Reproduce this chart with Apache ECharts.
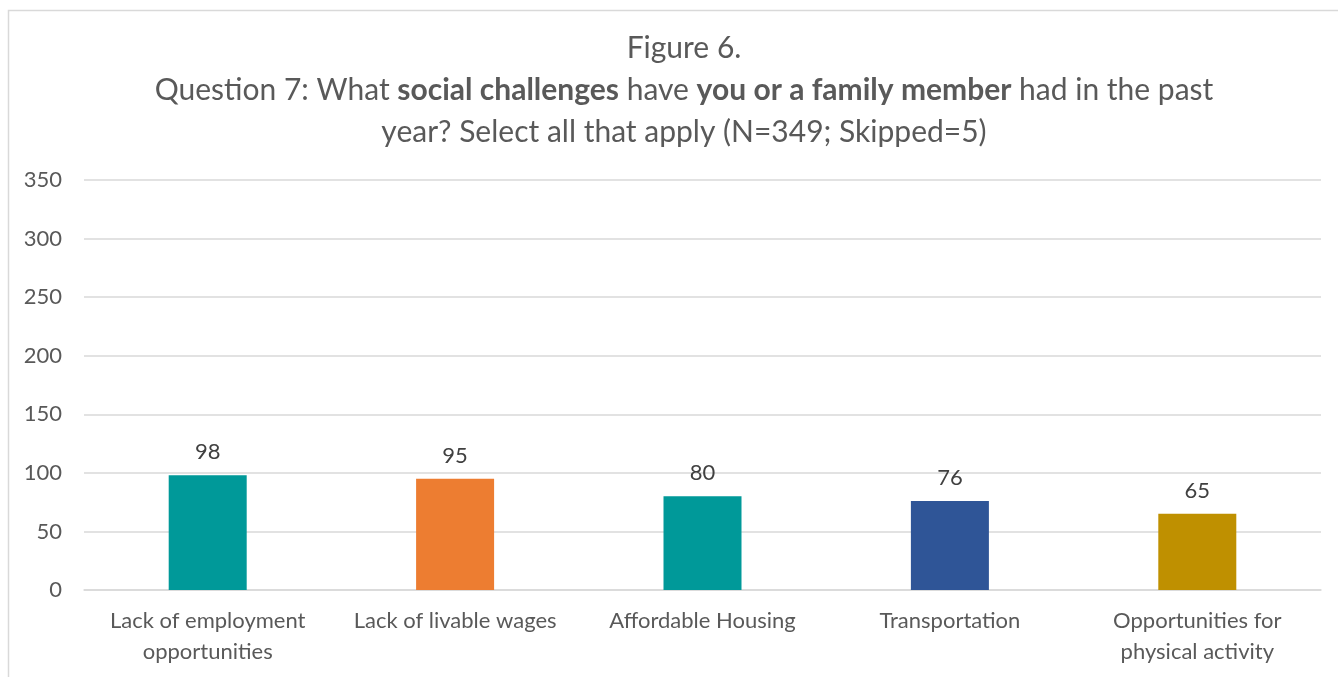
<!DOCTYPE html>
<html>
<head>
<meta charset="utf-8">
<script src="https://cdn.jsdelivr.net/npm/echarts@6/dist/echarts.min.js"></script>
<style>
  html, body { margin: 0; padding: 0; background: #ffffff; }
  #chart { width: 1338px; height: 677px; }
</style>
</head>
<body>
<div id="chart"></div>
<script>
// Survey responses: social challenges reported in the past year
const categories = [
  'Lack of employment\nopportunities',
  'Lack of livable wages',
  'Affordable Housing',
  'Transportation',
  'Opportunities for\nphysical activity'
];
const counts = [98, 95, 80, 76, 65];
const barColors = ['#009999', '#ED7D31', '#009999', '#2F5597', '#BF9000'];
const yTicks = { min: 0, max: 350, interval: 50 };

const FONT = 'Lato';
const TEXT = '#595959';

const chart = echarts.init(document.getElementById('chart'), null, { renderer: 'canvas' });

chart.setOption({
  backgroundColor: '#ffffff',
  animation: false,
  textStyle: { fontFamily: FONT },
  graphic: [{
    type: 'rect',
    shape: { x: 8.5, y: 10.5, width: 1342, height: 700 },
    style: { fill: 'none', stroke: '#d9d9d9', lineWidth: 1.5 },
    silent: true,
    z: -1
  }],
  title: {
    left: 679,
    top: 22,
    textAlign: 'center',
    text: '{n|Figure 6.}\n{n|Question 7: What }{b|social challenges}{n| have }{b|you or a family member}{n| had in the past}\n{n|year? Select all that apply (N=349; Skipped=5)}',
    textStyle: {
      fontWeight: 'normal',
      color: TEXT,
      rich: {
        n: { fontFamily: FONT, fontSize: 30, color: TEXT, fontWeight: 'normal', lineHeight: 42 },
        b: { fontFamily: FONT, fontSize: 30, color: TEXT, fontWeight: 'bold', lineHeight: 42 }
      }
    }
  },
  grid: { left: 84, right: 17, top: 180, bottom: 87, containLabel: false },
  xAxis: {
    type: 'category',
    data: categories,
    axisLine: { show: true, lineStyle: { color: '#d9d9d9', width: 1.5 } },
    axisTick: { show: false },
    axisLabel: {
      color: TEXT,
      fontFamily: FONT,
      fontSize: 22,
      lineHeight: 31,
      margin: 15,
      interval: 0
    }
  },
  yAxis: {
    type: 'value',
    min: yTicks.min,
    max: yTicks.max,
    interval: yTicks.interval,
    axisLine: { show: false },
    axisTick: { show: false },
    splitLine: { lineStyle: { color: '#d9d9d9', width: 1.5 } },
    axisLabel: { color: TEXT, fontFamily: FONT, fontSize: 22, margin: 22 }
  },
  series: [{
    type: 'bar',
    data: counts.map((v, i) => ({ value: v, itemStyle: { color: barColors[i] } })),
    barWidth: 78,
    label: {
      show: true,
      position: 'top',
      distance: 12,
      color: '#404040',
      fontFamily: FONT,
      fontSize: 22
    }
  }]
});
</script>
</body>
</html>
